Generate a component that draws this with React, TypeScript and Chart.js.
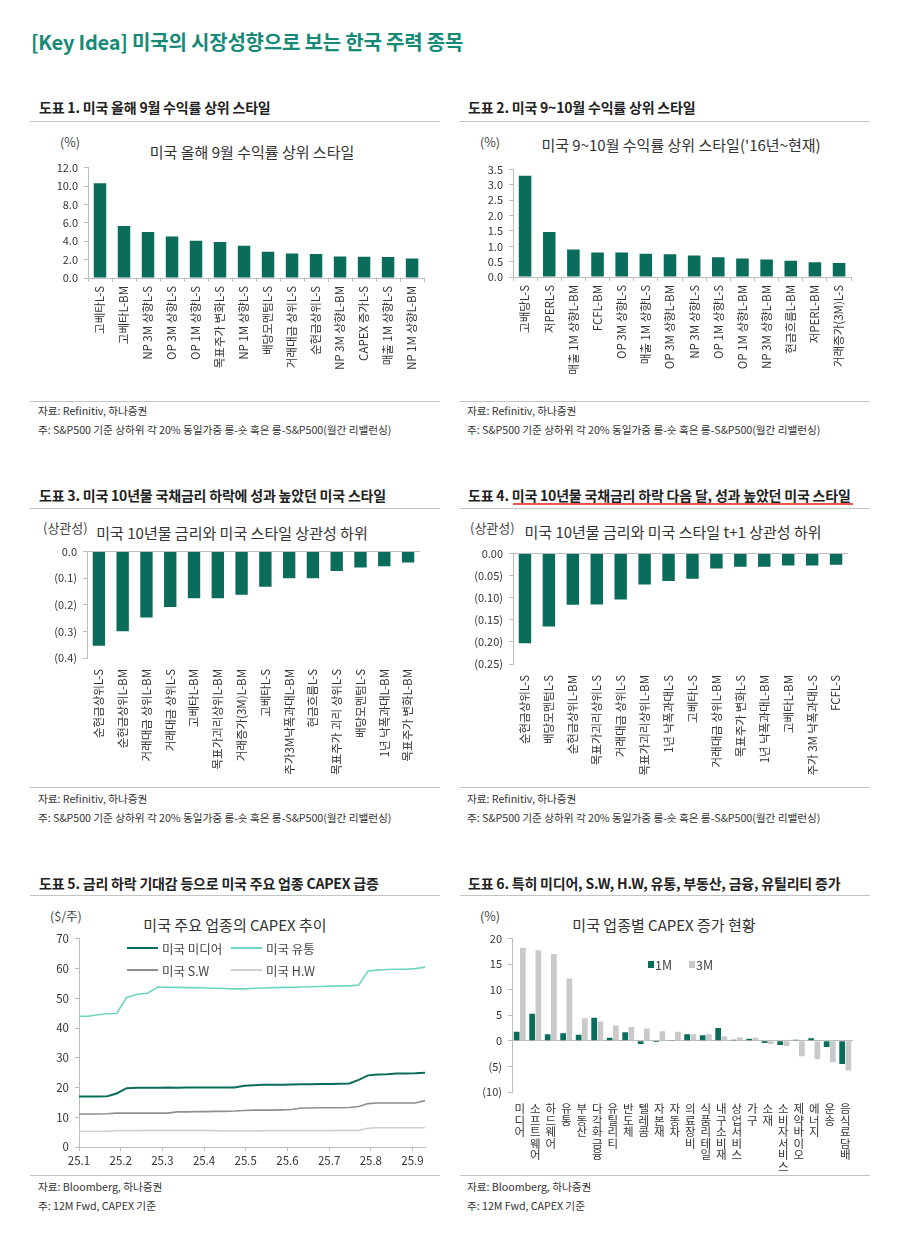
import React, { useEffect, useRef } from 'react';
import { Chart, registerables } from 'chart.js';
Chart.register(...registerables);

const FONT = '"Noto Sans CJK KR", "Noto Sans", sans-serif';
const GREEN = '#0a6c5a';
const MINT = '#6fd5c1';
const GRAY_SW = '#8e8e8e';
const GRAY_HW = '#cfcfcf';
const LIGHT = '#c9c9c9';
const AXIS = '#bdbdbd';
const TEXT = '#333333';
const HEAD = '#148a77';

Chart.defaults.font.family = FONT;
Chart.defaults.color = TEXT;

// ---------- Data ----------
const c1Labels = ['고베타L-S', '고베타L-BM', 'NP 3M 상향L-S', 'OP 3M 상향L-S', 'OP 1M 상향L-S', '목표주가 변화L-S', 'NP 1M 상향L-S', '배당모멘텀L-S', '거래대금 상위L-S', '순현금상위L-S', 'NP 3M 상향L-BM', 'CAPEX 증가L-S', '매출 1M 상향L-S', 'NP 1M 상향L-BM'];
const c1Values = [10.3, 5.65, 5.0, 4.5, 4.05, 3.9, 3.5, 2.85, 2.65, 2.6, 2.35, 2.3, 2.28, 2.12];

const c2Labels = ['고배당L-S', '저PERL-S', '매출 1M 상향L-BM', 'FCFL-BM', 'OP 3M 상향L-S', '매출 1M 상향L-S', 'OP 3M 상향L-BM', 'NP 3M 상향L-S', 'OP 1M 상향L-S', 'OP 1M 상향L-BM', 'NP 3M 상향L-BM', '현금흐름L-BM', '저PERL-BM', '거래증가(3M)L-S'];
const c2Values = [3.3, 1.47, 0.9, 0.8, 0.8, 0.76, 0.74, 0.7, 0.64, 0.6, 0.57, 0.53, 0.48, 0.46];

const c3Labels = ['순현금상위L-S', '순현금상위L-BM', '거래대금 상위L-BM', '거래대금 상위L-S', '고베타L-BM', '목표가괴리상위L-BM', '거래증가(3M)L-BM', '고베타L-S', '주가3M낙폭과대L-BM', '현금흐름L-S', '목표주가 괴리 상위L-S', '배당모멘텀L-S', '1년 낙폭과대L-BM', '목표주가 변화L-BM'];
const c3Values = [-0.354, -0.299, -0.248, -0.208, -0.175, -0.175, -0.162, -0.132, -0.1, -0.1, -0.073, -0.06, -0.055, -0.041];

const c4Labels = ['순현금상위L-S', '배당모멘텀L-S', '순현금상위L-BM', '목표가괴리상위L-S', '거래대금 상위L-S', '목표가괴리상위L-BM', '1년 낙폭과대L-S', '고베타L-S', '거래대금 상위L-BM', '목표주가 변화L-S', '1년 낙폭과대L-BM', '고베타L-BM', '주가 3M 낙폭과대L-S', 'FCFL-S'];
const c4Values = [-0.203, -0.165, -0.116, -0.115, -0.104, -0.07, -0.062, -0.057, -0.034, -0.03, -0.03, -0.027, -0.027, -0.025];

const capexDates = ['01-01', '01-08', '01-15', '01-22', '01-29', '02-05', '02-12', '02-19', '02-26', '03-05', '03-12', '03-19', '03-26', '04-02', '04-09', '04-16', '04-23', '04-30', '05-07', '05-14', '05-21', '05-28', '06-04', '06-11', '06-18', '06-25', '07-02', '07-09', '07-16', '07-23', '07-30', '08-06', '08-13', '08-20', '08-27', '09-03', '09-10'];
const capexMedia = [17.0, 17.0, 17.0, 17.1, 18.0, 19.8, 19.9, 19.9, 19.9, 20.0, 19.9, 20.0, 20.0, 20.0, 20.0, 20.0, 20.0, 20.6, 20.8, 20.9, 20.9, 20.9, 21.0, 21.1, 21.1, 21.2, 21.2, 21.3, 21.4, 22.6, 24.1, 24.4, 24.5, 24.7, 24.7, 24.8, 25.0];
const capexRetail = [44.0, 44.0, 44.5, 44.8, 44.9, 50.3, 51.4, 51.7, 53.8, 53.7, 53.7, 53.6, 53.6, 53.5, 53.4, 53.3, 53.2, 53.2, 53.4, 53.5, 53.6, 53.7, 53.7, 53.8, 53.9, 54.0, 54.1, 54.2, 54.2, 54.5, 59.2, 59.5, 59.7, 59.8, 59.8, 60.0, 60.5];
const capexSW = [11.1, 11.1, 11.1, 11.2, 11.4, 11.4, 11.4, 11.4, 11.4, 11.4, 11.8, 11.8, 11.9, 11.9, 12.0, 12.0, 12.1, 12.3, 12.4, 12.4, 12.4, 12.5, 12.6, 13.1, 13.1, 13.2, 13.2, 13.2, 13.3, 13.6, 14.6, 14.8, 14.8, 14.8, 14.8, 14.8, 15.6];
const capexHW = [5.3, 5.3, 5.3, 5.3, 5.5, 5.5, 5.5, 5.6, 5.6, 5.6, 5.6, 5.6, 5.6, 5.6, 5.5, 5.4, 5.4, 5.4, 5.4, 5.5, 5.5, 5.5, 5.5, 5.5, 5.5, 5.5, 5.5, 5.6, 5.6, 5.6, 6.3, 6.5, 6.5, 6.5, 6.5, 6.5, 6.5];
const capexSeriesNames = ['미국 미디어', '미국 유통', '미국 S.W', '미국 H.W'];
const capexColors = [GREEN, MINT, GRAY_SW, GRAY_HW];
const capexWidths = [2, 1.6, 1.6, 1.6];

const sectors = ['미디어', '소프트웨어', '하드웨어', '유통', '부동산', '다각화금융', '유틸리티', '반도체', '텔레콤', '자본재', '자동차', '의료장비', '식품리테일', '내구소비재', '상업서비스', '가구', '소재', '소비자서비스', '제약바이오', '에너지', '운송', '음식료담배'];
const sector1M = [1.8, 5.3, 1.3, 1.5, 1.2, 4.5, 0.6, 1.7, -0.6, -0.2, 0.05, 1.3, 1.1, 2.5, 0.2, 0.4, -0.4, -0.8, 0.2, 0.5, -1.2, -4.5];
const sector3M = [18.2, 17.7, 17.0, 12.2, 4.4, 3.8, 3.0, 2.7, 2.4, 1.9, 1.8, 1.3, 1.3, 0.9, 0.7, 0.6, -0.6, -1.0, -3.0, -3.6, -4.2, -5.8];
const sectorSeriesNames = ['1M', '3M'];

const DAYS = [31, 28, 31, 30, 31, 30, 31, 31, 30, 31, 30, 31];
const monthPos = (d: string) => {
  const [m, dd] = d.split('-').map(Number);
  return m + (dd - 1) / DAYS[m - 1];
};

// ---------- helpers ----------
const Y_W = 50;
const PAD_T = 10;
const PAD_R = 4;

type Box = { l: number; t: number; r: number; b: number; xh: number };
const geom = (p: Box) => ({
  left: p.l - Y_W,
  top: p.t - PAD_T,
  width: p.r + PAD_R - (p.l - Y_W),
  height: PAD_T + (p.b - p.t) + p.xh,
});

const isZero = (v: number) => Math.abs(v) < 1e-9;
const paren = (dec: number) => (v: number) => (isZero(v) ? (0).toFixed(dec) : v < 0 ? `(${Math.abs(v).toFixed(dec)})` : v.toFixed(dec));

const yAxis = (min: number, max: number, step: number, fmt: (v: number) => string) => ({
  min,
  max,
  ticks: { stepSize: step, autoSkip: false, callback: (v: any) => fmt(Number(v)), color: TEXT, font: { size: 11 }, padding: 6 },
  grid: {
    drawOnChartArea: true,
    drawTicks: true,
    tickLength: 4,
    tickColor: AXIS,
    color: (c: any) => (c.tick && isZero(c.tick.value) ? AXIS : 'rgba(0,0,0,0)'),
  },
  border: { display: true, color: AXIS },
  afterFit: (s: any) => {
    s.width = Y_W;
  },
});

function barConfig(labels: string[], values: number[], box: Box, min: number, max: number, step: number, dec: number, xTicks: boolean) {
  return {
    type: 'bar',
    data: {
      labels,
      datasets: [{ data: values, backgroundColor: GREEN, barPercentage: 0.52, categoryPercentage: 1 }],
    },
    options: {
      animation: false,
      responsive: false,
      layout: { padding: { top: PAD_T, right: PAD_R, left: 0, bottom: 0 } },
      plugins: { legend: { display: false }, tooltip: { enabled: false }, title: { display: false } },
      scales: {
        x: {
          grid: { display: xTicks, drawOnChartArea: false, drawTicks: true, tickLength: 4, color: AXIS, offset: true },
          border: { display: false },
          ticks: { autoSkip: false, maxRotation: 90, minRotation: 90, padding: xTicks ? 4 : 7, color: TEXT, font: { size: 11.5 } },
          afterFit: (s: any) => {
            s.height = box.xh;
          },
        },
        y: yAxis(min, max, step, paren(dec)),
      },
    },
  };
}

function lineConfig(box: Box) {
  const xs = capexDates.map(monthPos);
  const all = [capexMedia, capexRetail, capexSW, capexHW];
  return {
    type: 'line',
    data: {
      datasets: all.map((vals, k) => ({
        label: capexSeriesNames[k],
        data: vals.map((v, i) => ({ x: xs[i], y: v })),
        borderColor: capexColors[k],
        backgroundColor: capexColors[k],
        borderWidth: capexWidths[k],
        pointRadius: 0,
        tension: 0,
      })),
    },
    options: {
      animation: false,
      responsive: false,
      layout: { padding: { top: PAD_T, right: PAD_R, left: 0, bottom: 0 } },
      plugins: { legend: { display: false }, tooltip: { enabled: false } },
      scales: {
        x: {
          type: 'linear',
          min: xs[0],
          max: xs[xs.length - 1],
          ticks: { stepSize: 1, includeBounds: false, autoSkip: false, callback: (v: any) => `25.${v}`, color: TEXT, font: { size: 11.5 }, padding: 3 },
          grid: { drawOnChartArea: false, drawTicks: true, tickLength: 4, color: AXIS },
          border: { display: true, color: AXIS },
          afterFit: (s: any) => {
            s.height = box.xh;
          },
        },
        y: {
          min: 0,
          max: 70,
          ticks: { stepSize: 10, autoSkip: false, color: TEXT, font: { size: 11.5 }, padding: 6 },
          grid: { drawOnChartArea: false, drawTicks: true, tickLength: 4, color: AXIS },
          border: { display: true, color: AXIS },
          afterFit: (s: any) => {
            s.width = Y_W;
          },
        },
      },
    },
  };
}

function sectorConfig(box: Box) {
  return {
    type: 'bar',
    data: {
      labels: sectors.map((s) => s.split('')),
      datasets: [
        { label: sectorSeriesNames[0], data: sector1M, backgroundColor: GREEN, barPercentage: 0.92, categoryPercentage: 0.8 },
        { label: sectorSeriesNames[1], data: sector3M, backgroundColor: LIGHT, barPercentage: 0.92, categoryPercentage: 0.8 },
      ],
    },
    options: {
      animation: false,
      responsive: false,
      layout: { padding: { top: PAD_T, right: PAD_R, left: 0, bottom: 0 } },
      plugins: { legend: { display: false }, tooltip: { enabled: false } },
      scales: {
        x: {
          grid: { display: false },
          border: { display: false },
          ticks: { autoSkip: false, maxRotation: 0, minRotation: 0, padding: 3, color: TEXT, font: { size: 11.5, lineHeight: 1.0 } },
          afterFit: (s: any) => {
            s.height = box.xh;
          },
        },
        y: yAxis(-10, 20, 5, paren(0)),
      },
    },
  };
}

function ChartCanvas({ box, make }: { box: Box; make: (b: Box) => any }) {
  const ref = useRef<HTMLCanvasElement>(null);
  const g = geom(box);
  useEffect(() => {
    if (!ref.current) return;
    const chart = new Chart(ref.current, make(box));
    return () => chart.destroy();
  }, []);
  return (
    <div style={{ position: 'absolute', left: g.left, top: g.top, width: g.width, height: g.height }}>
      <canvas ref={ref} width={g.width} height={g.height} style={{ width: g.width, height: g.height, display: 'block' }} />
    </div>
  );
}

const T = ({ x, y, size = 12, bold = false, color = TEXT, center = false, ls = 0, children }: any) => (
  <div
    style={{
      position: 'absolute',
      left: x,
      top: y,
      transform: center ? 'translate(-50%,-50%)' : 'translateY(-50%)',
      fontSize: size,
      fontWeight: bold ? 700 : 400,
      color,
      whiteSpace: 'nowrap',
      lineHeight: 1.2,
      letterSpacing: ls,
      fontFamily: FONT,
    }}
  >
    {children}
  </div>
);

const HL = ({ x1, x2, y, color = '#c4c4c4', h = 1 }: any) => (
  <div style={{ position: 'absolute', left: x1, top: y, width: x2 - x1, height: h, background: color }} />
);

const LegendLine = ({ x, y, color, w, label }: any) => (
  <>
    <div style={{ position: 'absolute', left: x, top: y - w / 2, width: 31, height: w, background: color }} />
    <T x={x + 35} y={y} size={12.5} color="#444">
      {label}
    </T>
  </>
);

const LegendBox = ({ x, y, color, label }: any) => (
  <>
    <div style={{ position: 'absolute', left: x, top: y - 3, width: 6, height: 7, background: color }} />
    <T x={x + 7} y={y} size={12.5} color="#444">
      {label}
    </T>
  </>
);

const B1: Box = { l: 88, t: 165, r: 426, b: 278, xh: 112 };
const B2: Box = { l: 513, t: 167, r: 853, b: 277, xh: 113 };
const B3: Box = { l: 87, t: 549, r: 425, b: 658, xh: 122 };
const B4: Box = { l: 513, t: 551, r: 853, b: 664, xh: 116 };
const B5: Box = { l: 79, t: 936, r: 425, b: 1147, xh: 25 };
const B6: Box = { l: 512, t: 936, r: 853, b: 1092, xh: 80 };

const SRC_R = '자료: Refinitiv, 하나증권';
const NOTE_R = '주: S&P500 기준 상하위 각 20% 동일가중 롱-숏 혹은 롱-S&P500(월간 리밸런싱)';
const SRC_B = '자료: Bloomberg, 하나증권';
const NOTE_B = '주: 12M Fwd, CAPEX 기준';

const SEC = 14;
const TTL = 15;

export default function App() {
  const foot = (x: number, y: number, src: string, note: string) => (
    <>
      <T x={x} y={y} size={10.7} ls={-0.05} color="#333">
        {src}
      </T>
      <T x={x} y={y + 19} size={10.7} ls={-0.05} color="#333">
        {note}
      </T>
    </>
  );
  return (
    <div style={{ position: 'absolute', left: 0, top: 0, width: 900, height: 1240, background: '#fff', fontFamily: FONT, overflow: 'hidden' }}>
      <T x={31} y={42} size={20} bold color={HEAD} ls={-0.2}>
        [Key Idea] 미국의 시장성향으로 보는 한국 주력 종목
      </T>

      {/* Row 1 */}
      <T x={39} y={107} size={SEC} bold ls={-0.2} color="#222">도표 1. 미국 올해 9월 수익률 상위 스타일</T>
      <T x={468} y={107} size={SEC} bold ls={-0.2} color="#222">도표 2. 미국 9~10월 수익률 상위 스타일</T>
      <HL x1={30} x2={440} y={121} />
      <HL x1={460} x2={870} y={121} />
      <T x={60} y={141} size={12.5} color="#444">(%)</T>
      <T x={480} y={141} size={12.5} color="#444">(%)</T>
      <T x={252} y={152} size={TTL} center color="#333">미국 올해 9월 수익률 상위 스타일</T>
      <T x={681} y={145} size={TTL} center color="#333">미국 9~10월 수익률 상위 스타일('16년~현재)</T>
      <ChartCanvas box={B1} make={(b) => barConfig(c1Labels, c1Values, b, 0, 12, 2, 1, true)} />
      <ChartCanvas box={B2} make={(b) => barConfig(c2Labels, c2Values, b, 0, 3.5, 0.5, 1, true)} />
      <HL x1={30} x2={440} y={401} />
      <HL x1={460} x2={870} y={401} />
      {foot(38, 411, SRC_R, NOTE_R)}
      {foot(467, 411, SRC_R, NOTE_R)}

      {/* Row 2 */}
      <T x={39} y={495} size={SEC} bold ls={-0.2} color="#222">도표 3. 미국 10년물 국채금리 하락에 성과 높았던 미국 스타일</T>
      <T x={468} y={495} size={SEC} bold ls={-0.2} color="#222">도표 4. 미국 10년물 국채금리 하락 다음 달, 성과 높았던 미국 스타일</T>
      <HL x1={513} x2={853} y={503} color="#e8554e" h={1.5} />
      <HL x1={30} x2={440} y={508} />
      <HL x1={460} x2={870} y={508} />
      <T x={43} y={528} size={13} color="#444">(상관성)</T>
      <T x={470} y={528} size={13} color="#444">(상관성)</T>
      <T x={232} y={533} size={TTL} center color="#333">미국 10년물 금리와 미국 스타일 상관성 하위</T>
      <T x={673} y={532} size={TTL} center color="#333">미국 10년물 금리와 미국 스타일 t+1 상관성 하위</T>
      <ChartCanvas box={B3} make={(b) => barConfig(c3Labels, c3Values, b, -0.4, 0, 0.1, 1, false)} />
      <ChartCanvas box={B4} make={(b) => barConfig(c4Labels, c4Values, b, -0.25, 0, 0.05, 2, false)} />
      <HL x1={30} x2={440} y={787} />
      <HL x1={460} x2={870} y={787} />
      {foot(38, 799, SRC_R, NOTE_R)}
      {foot(467, 799, SRC_R, NOTE_R)}

      {/* Row 3 */}
      <T x={39} y={883} size={SEC} bold ls={-0.2} color="#222">도표 5. 금리 하락 기대감 등으로 미국 주요 업종 CAPEX 급증</T>
      <T x={468} y={883} size={SEC} bold ls={-0.2} color="#222">도표 6. 특히 미디어, S.W, H.W, 유통, 부동산, 금융, 유틸리티 증가</T>
      <HL x1={30} x2={440} y={895} />
      <HL x1={460} x2={870} y={895} />
      <T x={50} y={915} size={12.5} color="#444">($/주)</T>
      <T x={480} y={915} size={12.5} color="#444">(%)</T>
      <T x={235} y={925} size={TTL} center color="#333">미국 주요 업종의 CAPEX 추이</T>
      <T x={664} y={925} size={TTL} center color="#333">미국 업종별 CAPEX 증가 현황</T>
      <ChartCanvas box={B5} make={lineConfig} />
      <ChartCanvas box={B6} make={sectorConfig} />
      <LegendLine x={127} y={948} color={capexColors[0]} w={2} label={capexSeriesNames[0]} />
      <LegendLine x={231} y={948} color={capexColors[1]} w={1.6} label={capexSeriesNames[1]} />
      <LegendLine x={127} y={970} color={capexColors[2]} w={1.6} label={capexSeriesNames[2]} />
      <LegendLine x={231} y={970} color={capexColors[3]} w={1.6} label={capexSeriesNames[3]} />
      <LegendBox x={648} y={964} color={GREEN} label={sectorSeriesNames[0]} />
      <LegendBox x={689} y={964} color={LIGHT} label={sectorSeriesNames[1]} />
      <HL x1={30} x2={440} y={1175} />
      <HL x1={460} x2={870} y={1175} />
      {foot(38, 1187, SRC_B, NOTE_B)}
      {foot(467, 1187, SRC_B, NOTE_B)}
    </div>
  );
}
